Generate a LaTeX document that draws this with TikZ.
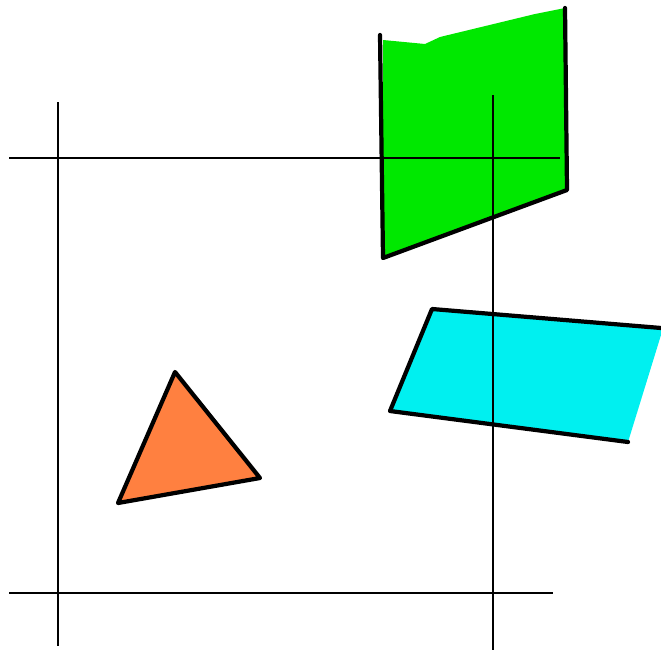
\documentclass[tikz,border=0pt]{standalone}
\usepackage{tikz}

\definecolor{polygreen}{RGB}{0,232,0}
\definecolor{polycyan}{RGB}{0,240,240}
\definecolor{polyorange}{RGB}{255,128,64}

\tikzset{
  winline/.style={black, line width=1.4pt},
  polyedge/.style={black, line width=2.4pt, line join=round, line cap=round}
}

\begin{document}
\begin{tikzpicture}[x=0.02cm, y=-0.02cm]

  \useasboundingbox (0,0) rectangle (661,652);

  % ----------------------------------------------------------------
  % Polygons
  % ----------------------------------------------------------------
  % green quadrilateral (top edge open)
  \fill[polygreen] (383,40) -- (425,44) -- (440,37) -- (535,14) -- (565,8)
    -- (567,190) -- (383,258) -- cycle;
  \draw[polyedge] (380,35) -- (383,258) -- (567,190) -- (565,8);

  % cyan quadrilateral (runs off the right side)
  \fill[polycyan] (432,309) -- (661,328) -- (661,335) -- (628,442)
    -- (390,411) -- cycle;
  \draw[polyedge] (661,328) -- (432,309) -- (390,411) -- (628,442);

  % orange triangle
  \filldraw[polyedge, fill=polyorange] (175,372) -- (260,478) -- (118,503) -- cycle;

  % ----------------------------------------------------------------
  % Clipping window
  % ----------------------------------------------------------------
  \foreach \x/\ya/\yb in {58/102/646, 493/95/650} {
    \draw[winline] (\x,\ya) -- (\x,\yb);
  }
  \foreach \y/\xa/\xb in {158/9/560, 593/9/553} {
    \draw[winline] (\xa,\y) -- (\xb,\y);
  }

\end{tikzpicture}
\end{document}
